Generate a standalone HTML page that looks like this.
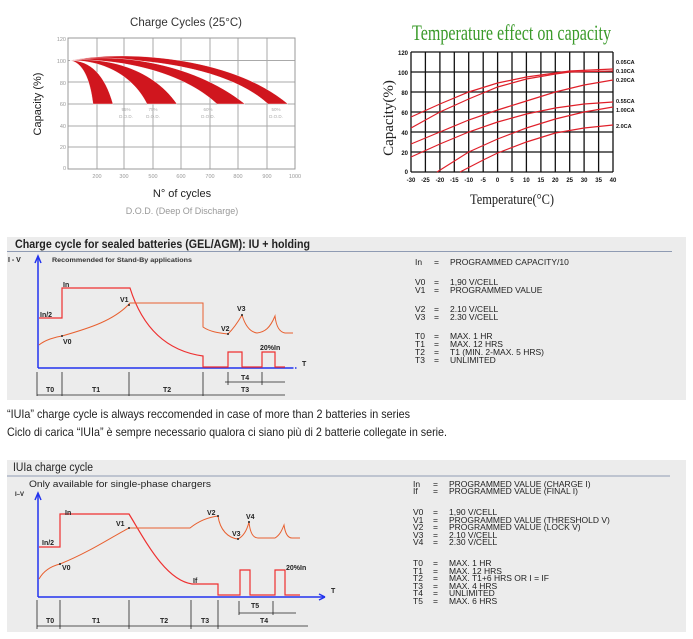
<!DOCTYPE html>
<html><head><meta charset="utf-8"><style>
html,body{margin:0;padding:0;background:#fff;}
svg{display:block;}
text{font-family:"Liberation Sans",sans-serif;}
.s{font-family:"Liberation Serif",serif;}
.d{font-size:7px;font-weight:bold;fill:#222;}
.r{font-size:8.5px;fill:#222;}
</style></head><body>
<svg width="693" height="639" viewBox="0 0 693 639" xmlns="http://www.w3.org/2000/svg">
<rect width="693" height="639" fill="#fff"/>
<!-- Chart 1 -->
<text x="186" y="26" font-size="11.5" text-anchor="middle" fill="#333">Charge Cycles (25°C)</text>
<g stroke="#aaa" stroke-width="1">
<line x1="68" y1="60.5" x2="295" y2="60.5"/><line x1="68" y1="82" x2="295" y2="82"/><line x1="68" y1="104" x2="295" y2="104"/><line x1="68" y1="126" x2="295" y2="126"/><line x1="68" y1="147" x2="295" y2="147"/>
<line x1="97" y1="38" x2="97" y2="169"/><line x1="124" y1="38" x2="124" y2="169"/><line x1="153" y1="38" x2="153" y2="169"/><line x1="181" y1="38" x2="181" y2="169"/><line x1="210" y1="38" x2="210" y2="169"/><line x1="238" y1="38" x2="238" y2="169"/><line x1="267" y1="38" x2="267" y2="169"/>
</g>
<rect x="68" y="38" width="227" height="131" fill="none" stroke="#999" stroke-width="1"/>
<g font-size="5.5" fill="#999" text-anchor="end">
<text x="66" y="41">120</text><text x="66" y="63">100</text><text x="66" y="85">80</text><text x="66" y="106">60</text><text x="66" y="128">40</text><text x="66" y="149">20</text><text x="66" y="170">0</text></g>
<g font-size="5.5" fill="#999" text-anchor="middle">
<text x="97" y="178">200</text><text x="124" y="178">300</text><text x="153" y="178">500</text><text x="181" y="178">600</text><text x="210" y="178">700</text><text x="238" y="178">800</text><text x="267" y="178">900</text><text x="295" y="178">1000</text></g>
<g fill="#d0161e" stroke="#fff" stroke-width="0.4">
<path d="M70,60.5 C120,50 230,55 288,104 L268,104 C220,60 110,56 70,60.5Z"/>
<path d="M70,60.5 C110,53 190,60 245,104 L217,104 C175,65 100,58 70,60.5Z"/>
<path d="M70,60.5 C100,57 150,65 177,104 L147,104 C130,70 95,60 70,60.5Z"/>
<path d="M70,60.5 C90,60 105,75 113,104 L93,104 C90,78 82,62 70,60.5Z"/>
</g>
<g font-size="4.5" fill="#aaa" text-anchor="middle">
<text x="126" y="111">95%</text><text x="126" y="118">D.O.D.</text>
<text x="153" y="111">75%</text><text x="153" y="118">D.O.D.</text>
<text x="208" y="111">60%</text><text x="208" y="118">D.O.D.</text>
<text x="276" y="111">50%</text><text x="276" y="118">D.O.D.</text></g>
<text transform="translate(41,104) rotate(-90)" font-size="11" text-anchor="middle" fill="#222">Capacity (%)</text>
<text x="182" y="197" font-size="11" text-anchor="middle" fill="#222">N° of cycles</text>
<text x="182" y="214" font-size="9" text-anchor="middle" fill="#999">D.O.D. (Deep Of Discharge)</text>
<!-- Chart 2 -->
<text class="s" x="412" y="40" font-size="22" fill="#3a9a2a" textLength="199" lengthAdjust="spacingAndGlyphs">Temperature effect on capacity</text>
<g stroke="#111" stroke-width="1.3">
<line x1="411" y1="52" x2="613" y2="52"/><line x1="411" y1="72" x2="613" y2="72"/><line x1="411" y1="92" x2="613" y2="92"/><line x1="411" y1="112" x2="613" y2="112"/><line x1="411" y1="132" x2="613" y2="132"/><line x1="411" y1="152" x2="613" y2="152"/><line x1="411" y1="172" x2="613" y2="172"/>
<line x1="411" y1="52" x2="411" y2="172"/><line x1="425.4" y1="52" x2="425.4" y2="172"/><line x1="439.9" y1="52" x2="439.9" y2="172"/><line x1="454.3" y1="52" x2="454.3" y2="172"/><line x1="468.7" y1="52" x2="468.7" y2="172"/><line x1="483.2" y1="52" x2="483.2" y2="172"/><line x1="497.6" y1="52" x2="497.6" y2="172"/><line x1="512" y1="52" x2="512" y2="172"/><line x1="526.4" y1="52" x2="526.4" y2="172"/><line x1="540.9" y1="52" x2="540.9" y2="172"/><line x1="555.3" y1="52" x2="555.3" y2="172"/><line x1="569.7" y1="52" x2="569.7" y2="172"/><line x1="584.1" y1="52" x2="584.1" y2="172"/><line x1="598.6" y1="52" x2="598.6" y2="172"/><line x1="613" y1="52" x2="613" y2="172"/>
</g>
<g fill="none" stroke="#e0202a" stroke-width="1.2">
<polyline points="411,117 439.9,104 468.7,92 497.6,83 526.4,77 555.3,73 569.7,71 613,69"/>
<polyline points="411,128 439.9,112 468.7,99 497.6,87 526.4,79 555.3,74 569.7,72 613,71"/>
<polyline points="411,144 439.9,132 468.7,120 497.6,110 526.4,101 555.3,92 584.1,85 613,80"/>
<polyline points="411,157 439.9,144 468.7,132 497.6,122 526.4,114 555.3,108 584.1,104 613,102"/>
<polyline points="437,172 468.7,152 497.6,139 526.4,128 555.3,119 584.1,112 613,107"/>
<polyline points="460,172 483.2,160 497.6,153 526.4,142 555.3,133 584.1,128 613,125"/>
</g>
<g font-size="6" font-weight="bold" fill="#111" text-anchor="end">
<text x="408" y="55">120</text><text x="408" y="75">100</text><text x="408" y="95">80</text><text x="408" y="115">60</text><text x="408" y="135">40</text><text x="408" y="155">20</text><text x="408" y="174">0</text></g>
<g font-size="6" font-weight="bold" fill="#111" text-anchor="middle">
<text x="411" y="182">-30</text><text x="425.4" y="182">-25</text><text x="439.9" y="182">-20</text><text x="454.3" y="182">-15</text><text x="468.7" y="182">-10</text><text x="483.2" y="182">-5</text><text x="497.6" y="182">0</text><text x="512" y="182">5</text><text x="526.4" y="182">10</text><text x="540.9" y="182">15</text><text x="555.3" y="182">20</text><text x="569.7" y="182">25</text><text x="584.1" y="182">30</text><text x="598.6" y="182">35</text><text x="613" y="182">40</text></g>
<g font-size="5.5" font-weight="bold" fill="#111">
<text x="616" y="64">0.05CA</text><text x="616" y="73">0.10CA</text><text x="616" y="82">0.20CA</text><text x="616" y="103">0.55CA</text><text x="616" y="112">1.00CA</text><text x="616" y="128">2.0CA</text></g>
<text class="s" transform="translate(393,118) rotate(-90)" font-size="15" text-anchor="middle" fill="#222">Capacity(%)</text>
<text class="s" x="512" y="204" font-size="15" text-anchor="middle" fill="#222" textLength="84" lengthAdjust="spacingAndGlyphs">Temperature(°C)</text>

<!-- Panel 1 -->
<rect x="7" y="237" width="679" height="163" fill="#ececec"/>
<text x="15" y="248" font-size="11.5" font-weight="bold" fill="#222" textLength="295" lengthAdjust="spacingAndGlyphs">Charge cycle for sealed batteries (GEL/AGM): IU + holding</text>
<line x1="7" y1="251.5" x2="672" y2="251.5" stroke="#7080a0" stroke-width="0.8"/>
<text x="8" y="262" class="d">I - V</text>
<text x="52" y="262" font-size="6.5" font-weight="bold" fill="#333" textLength="140" lengthAdjust="spacingAndGlyphs">Recommended for Stand-By applications</text>
<g stroke="#2233ee" stroke-width="1.5" fill="none"><line x1="38" y1="368" x2="38" y2="258"/><line x1="38" y1="368" x2="292" y2="368"/><path d="M35,263 L38,256 L41,263"/><path d="M292,368 h6" stroke-dasharray="1.5 1.5"/></g>
<text x="302" y="366" class="d">T</text>
<g fill="none" stroke="#ee3030" stroke-width="1.2">
<path d="M39,318 H62 V288 H130 C140,320 160,350 203,356 V367 H228 V352 H242 V367 H262 V352 H275 V367 H285"/>
</g>
<g fill="none" stroke="#e86030" stroke-width="1">
<path d="M39,345 C45,340 55,337 62,336 C90,328 115,320 130,303 H203 V327 C210,332 220,333 228,334 C234,328 238,322 242,315 C245,325 250,332 257,333 C265,332 270,328 275,316 C276,325 279,332 285,333 H293"/>
</g>
<g fill="#222"><circle cx="62" cy="336" r="1"/><circle cx="129" cy="305" r="1"/><circle cx="228" cy="334" r="1"/><circle cx="242" cy="315" r="1"/></g>
<text x="63" y="287" class="d">In</text><text x="40" y="317" class="d">In/2</text><text x="120" y="302" class="d">V1</text><text x="63" y="344" class="d">V0</text><text x="221" y="331" class="d">V2</text><text x="237" y="311" class="d">V3</text><text x="260" y="350" class="d">20%In</text>
<g stroke="#222" stroke-width="0.8">
<line x1="37" y1="372" x2="37" y2="396"/><line x1="62" y1="372" x2="62" y2="396"/><line x1="129" y1="372" x2="129" y2="396"/><line x1="203" y1="372" x2="203" y2="396"/>
<line x1="37" y1="395" x2="285" y2="395"/><line x1="225" y1="382" x2="285" y2="382"/><line x1="228" y1="372" x2="228" y2="385"/><line x1="262" y1="372" x2="262" y2="385"/></g>
<text x="46" y="392" class="d">T0</text><text x="92" y="392" class="d">T1</text><text x="163" y="392" class="d">T2</text><text x="241" y="392" class="d">T3</text><text x="241" y="380" class="d">T4</text>
<g>
<text x="415" y="265" class="r">In</text><text x="434" y="265" class="r">=</text><text x="450" y="265" class="r">PROGRAMMED CAPACITY/10</text>
<text x="415" y="285" class="r">V0</text><text x="434" y="285" class="r">=</text><text x="450" y="285" class="r">1,90 V/CELL</text>
<text x="415" y="293" class="r">V1</text><text x="434" y="293" class="r">=</text><text x="450" y="293" class="r">PROGRAMMED VALUE</text>
<text x="415" y="312" class="r">V2</text><text x="434" y="312" class="r">=</text><text x="450" y="312" class="r">2.10 V/CELL</text>
<text x="415" y="320" class="r">V3</text><text x="434" y="320" class="r">=</text><text x="450" y="320" class="r">2.30 V/CELL</text>
<text x="415" y="339" class="r">T0</text><text x="434" y="339" class="r">=</text><text x="450" y="339" class="r">MAX. 1 HR</text>
<text x="415" y="347" class="r">T1</text><text x="434" y="347" class="r">=</text><text x="450" y="347" class="r">MAX. 12 HRS</text>
<text x="415" y="355" class="r">T2</text><text x="434" y="355" class="r">=</text><text x="450" y="355" class="r">T1 (MIN. 2-MAX. 5 HRS)</text>
<text x="415" y="363" class="r">T3</text><text x="434" y="363" class="r">=</text><text x="450" y="363" class="r">UNLIMITED</text></g>

<text x="7" y="418" font-size="12" fill="#222" textLength="403" lengthAdjust="spacingAndGlyphs">“IUIa” charge cycle is always reccomended in case of more than 2 batteries in series</text>
<text x="7" y="436" font-size="12" fill="#222" textLength="440" lengthAdjust="spacingAndGlyphs">Ciclo di carica “IUIa” è sempre necessario qualora ci siano più di 2 batterie collegate in serie.</text>

<!-- Panel 2 -->
<rect x="7" y="460" width="679" height="172" fill="#ececec"/>
<text x="13" y="471" font-size="11.5" fill="#222" textLength="80" lengthAdjust="spacingAndGlyphs">IUIa charge cycle</text>
<line x1="7" y1="476" x2="670" y2="476" stroke="#7080a0" stroke-width="0.8"/>
<text x="29" y="487" font-size="9.5" fill="#222" textLength="182" lengthAdjust="spacingAndGlyphs">Only available for single-phase chargers</text>
<text x="15" y="496" font-size="6" font-weight="bold" fill="#222">I–V</text>
<g stroke="#2233ee" stroke-width="1.5" fill="none"><line x1="38" y1="597" x2="38" y2="494"/><line x1="38" y1="597" x2="325" y2="597"/><path d="M35,500 L38,493 L41,500"/><path d="M325,597 L319,594 M325,597 L319,600"/></g>
<text x="331" y="593" class="d">T</text>
<g fill="none" stroke="#ee3030" stroke-width="1.2">
<path d="M39,547 H60 V514 H129 C145,540 165,580 192,584 H218 V595 H240 V570 H250 V595 H275 V570 H285 V595 H300"/>
</g>
<g fill="none" stroke="#e86030" stroke-width="1">
<path d="M39,579 C44,570 52,566 60,564 C90,552 115,535 129,528 H190 C200,520 210,517 218,516 C220,530 228,538 238,539 C244,536 247,530 249,522 C250,532 253,538 258,538 H275 C280,535 282,530 284,525 C285,532 287,538 292,538 H300"/>
</g>
<g fill="#222"><circle cx="60" cy="564" r="1"/><circle cx="129" cy="528" r="1"/><circle cx="218" cy="516" r="1"/><circle cx="238" cy="539" r="1"/><circle cx="249" cy="522" r="1"/></g>
<text x="65" y="515" class="d">In</text><text x="42" y="545" class="d">In/2</text><text x="116" y="526" class="d">V1</text><text x="62" y="570" class="d">V0</text><text x="207" y="515" class="d">V2</text><text x="232" y="536" class="d">V3</text><text x="246" y="519" class="d">V4</text><text x="193" y="583" class="d">If</text><text x="286" y="570" class="d">20%In</text>
<g stroke="#222" stroke-width="0.8">
<line x1="37" y1="600" x2="37" y2="629"/><line x1="60" y1="600" x2="60" y2="629"/><line x1="129" y1="600" x2="129" y2="629"/><line x1="191" y1="600" x2="191" y2="629"/><line x1="218" y1="600" x2="218" y2="629"/>
<line x1="37" y1="626" x2="308" y2="626"/><line x1="239" y1="613" x2="296" y2="613"/><line x1="239" y1="601" x2="239" y2="615"/><line x1="273" y1="601" x2="273" y2="615"/></g>
<text x="46" y="623" class="d">T0</text><text x="92" y="623" class="d">T1</text><text x="160" y="623" class="d">T2</text><text x="201" y="623" class="d">T3</text><text x="260" y="623" class="d">T4</text><text x="251" y="608" class="d">T5</text>
<g>
<text x="413" y="487" class="r">In</text><text x="433" y="487" class="r">=</text><text x="449" y="487" class="r">PROGRAMMED VALUE (CHARGE I)</text>
<text x="413" y="494" class="r">If</text><text x="433" y="494" class="r">=</text><text x="449" y="494" class="r">PROGRAMMED VALUE (FINAL I)</text>
<text x="413" y="515" class="r">V0</text><text x="433" y="515" class="r">=</text><text x="449" y="515" class="r">1,90 V/CELL</text>
<text x="413" y="523" class="r">V1</text><text x="433" y="523" class="r">=</text><text x="449" y="523" class="r">PROGRAMMED VALUE (THRESHOLD V)</text>
<text x="413" y="530" class="r">V2</text><text x="433" y="530" class="r">=</text><text x="449" y="530" class="r">PROGRAMMED VALUE (LOCK V)</text>
<text x="413" y="538" class="r">V3</text><text x="433" y="538" class="r">=</text><text x="449" y="538" class="r">2.10 V/CELL</text>
<text x="413" y="545" class="r">V4</text><text x="433" y="545" class="r">=</text><text x="449" y="545" class="r">2.30 V/CELL</text>
<text x="413" y="566" class="r">T0</text><text x="433" y="566" class="r">=</text><text x="449" y="566" class="r">MAX. 1 HR</text>
<text x="413" y="574" class="r">T1</text><text x="433" y="574" class="r">=</text><text x="449" y="574" class="r">MAX. 12 HRS</text>
<text x="413" y="581" class="r">T2</text><text x="433" y="581" class="r">=</text><text x="449" y="581" class="r">MAX. T1+6 HRS OR I = IF</text>
<text x="413" y="589" class="r">T3</text><text x="433" y="589" class="r">=</text><text x="449" y="589" class="r">MAX. 4 HRS</text>
<text x="413" y="596" class="r">T4</text><text x="433" y="596" class="r">=</text><text x="449" y="596" class="r">UNLIMITED</text>
<text x="413" y="604" class="r">T5</text><text x="433" y="604" class="r">=</text><text x="449" y="604" class="r">MAX. 6 HRS</text></g>
</svg>
</body></html>
